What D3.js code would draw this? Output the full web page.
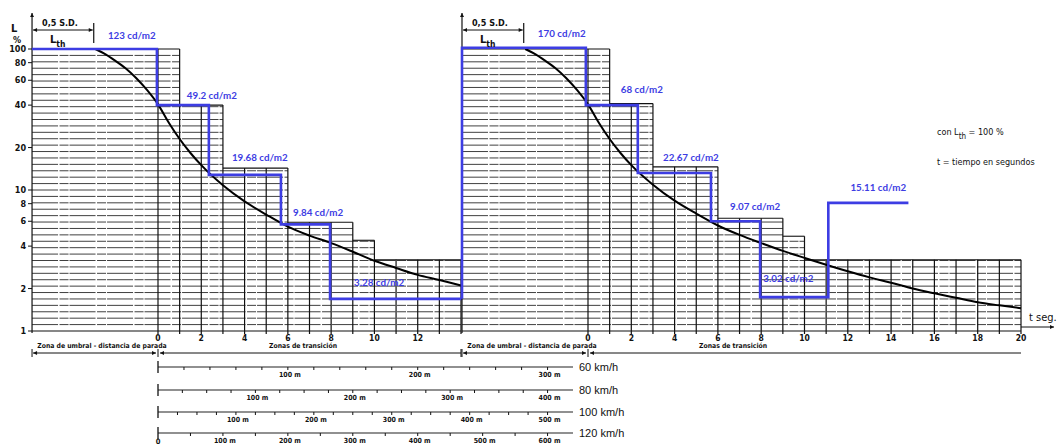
<!DOCTYPE html>
<html><head><meta charset="utf-8">
<script src="https://cdn.jsdelivr.net/npm/d3@7"></script>
<style>body{margin:0;background:#fff}svg{display:block}</style>
</head><body>
<svg id="c" width="1057" height="446"></svg>
<script>
// ---------------- DATA ----------------
const yTickValues = [1, 2, 4, 6, 8, 10, 20, 40, 60, 80, 100];
const leftTicksT = [0, 2, 4, 6, 8, 10, 12];
const rightTicksT = [0, 2, 4, 6, 8, 10, 12, 14, 16, 18, 20];
const thresholdStart = -5.82;           // start of threshold zone (s)
// grid columns: [t start, t end, top level %]
const leftColumns = [[-5.82, 1, 100], [1, 3, 40], [3, 6, 14.3], [6, 9, 5.9], [9, 10, 4.4], [10, 14, 3.2]];
const rightColumns = [[-5.82, 1, 100], [1, 3, 41], [3, 6, 14.6], [6, 9, 6.3], [9, 10, 4.7], [10, 20, 3.2]];
// black luminance curves [t, L%]
const curveLeft = [[-2.9, 100], [-2.5, 93], [-2, 83], [-1.5, 73], [-1, 62], [-0.5, 51], [0, 40.5], [0.5, 30], [1, 23], [1.5, 18.3], [2, 15], [3, 10.8], [4, 8.3], [5, 6.7], [6, 5.5], [7, 4.75], [8, 4.2], [9, 3.65], [10, 3.15], [11, 2.8], [12, 2.5], [13, 2.3], [14, 2.1]];
const curveRight = [[-2.9, 100], [-2.5, 93], [-2, 83], [-1.5, 73], [-1, 62], [-0.5, 51], [0, 40.5], [0.5, 30], [1, 23], [1.5, 18.3], [2, 15], [3, 10.9], [4, 8.4], [5, 6.8], [6, 5.6], [7, 4.8], [8, 4.2], [9, 3.7], [10, 3.3], [11, 2.95], [12, 2.65], [13, 2.4], [14, 2.2], [15, 2.0], [16, 1.85], [17, 1.72], [18, 1.6], [19, 1.52], [20, 1.45]];
// blue step lines [t, L%]
const stepsLeft = [[-5.82, 100], [-0.05, 100], [-0.05, 40], [2.35, 40], [2.35, 12.8], [5.68, 12.8], [5.68, 5.7], [7.95, 5.7], [7.95, 1.69], [14.05, 1.69]];
const stepsRight = [[-5.82, 1.69], [-5.82, 102], [-0.1, 102], [-0.1, 40], [2.3, 40], [2.3, 13.2], [5.68, 13.2], [5.68, 6.0], [7.95, 6.0], [7.95, 1.74], [11.1, 1.74], [11.1, 8.1], [14.8, 8.1]];
const labelsLeft = ["123 cd/m2", "49.2 cd/m2", "19.68 cd/m2", "9.84 cd/m2", "3.28 cd/m2"];
const labelsRight = ["170 cd/m2", "68 cd/m2", "22.67 cd/m2", "9.07 cd/m2", "3.02 cd/m2", "15.11 cd/m2"];
// distance scales
const speeds = [60, 80, 100, 120];
const speedLabelsM = [[100, 200, 300], [100, 200, 300, 400], [100, 200, 300, 400, 500], [100, 200, 300, 400, 500, 600]];
const minorStepM = [20, 25, 25, 50];
const maxDistM = [320, 420, 520, 625];

// ---------------- LAYOUT ----------------
const svg = d3.select("#c");
const y = d3.scaleLog().domain([1, 100]).range([331, 49]);
const xL = d3.scaleLinear().domain([0, 14]).range([158, 461]);
const xR = d3.scaleLinear().domain([0, 20]).range([588, 1021]);
const blue = "#3d3de3";
const narrow = "'Liberation Sans Narrow','DejaVu Sans Condensed','Arial Narrow',sans-serif";
const labelOffsetsLeft = [[-49, -10], [-22, -6], [-49, -14], [-37, -8], [-108, -13]];
const labelOffsetsRight = [[-48, -11], [-17, -12], [-48, -12], [-30, -11], [-65, -15], [-58, -12]];

const defs = svg.append("defs");
defs.append("marker").attr("id", "ah").attr("viewBox", "0 0 10 10")
  .attr("refX", 10).attr("refY", 5).attr("markerWidth", 7).attr("markerHeight", 4)
  .attr("markerUnits", "userSpaceOnUse").attr("orient", "auto-start-reverse")
  .append("path").attr("d", "M0,0L10,5L0,10z").attr("fill", "#111");

const gridLevels = d3.range(1, 44).map(i => Math.pow(10, 2 * i / 44));

const panels = [
  {x: xL, cols: leftColumns, tmax: 14, curve: curveLeft, steps: stepsLeft, labels: labelsLeft, offs: labelOffsetsLeft, ticks: leftTicksT, segStart: 0},
  {x: xR, cols: rightColumns, tmax: 20, curve: curveRight, steps: stepsRight, labels: labelsRight, offs: labelOffsetsRight, ticks: rightTicksT, segStart: 1}
];

function colTop(cols, t) {
  const c = cols.find(c => t >= c[0] && t < c[1]);
  return c ? c[2] : null;
}

panels.forEach(p => {
  const g = svg.append("g");
  const x = p.x;
  const x0 = x(thresholdStart);
  // horizontal grid lines
  gridLevels.forEach(L => {
    const cs = p.cols.filter(c => c[2] >= L - 1e-6);
    const tEnd = d3.max(cs, c => c[1]);
    g.append("line").attr("x1", x0).attr("x2", x(tEnd)).attr("y1", y(L)).attr("y2", y(L))
      .attr("stroke", "#2a2a2a").attr("stroke-width", 0.9).attr("stroke-dasharray", "26,1.5,9,1");
  });
  // bottom line
  g.append("line").attr("x1", x0).attr("x2", x(p.tmax)).attr("y1", y(1)).attr("y2", y(1))
    .attr("stroke", "#111").attr("stroke-width", 1.2);
  // column top edges
  p.cols.forEach(c => {
    g.append("line").attr("x1", x(c[0])).attr("x2", x(c[1])).attr("y1", y(c[2])).attr("y2", y(c[2]))
      .attr("stroke", "#111").attr("stroke-width", 1.1);
  });
  // vertical grid lines
  d3.range(0, p.tmax + 1).forEach(t => {
    const a = colTop(p.cols, t - 0.5), b = colTop(p.cols, t + 0.5);
    const top = Math.max(a || 0, b || 0);
    g.append("line").attr("x1", x(t)).attr("x2", x(t)).attr("y1", y(1) + 3).attr("y2", y(top))
      .attr("stroke", "#111").attr("stroke-width", 1.2);
  });
  // vertical axis of panel with arrow
  g.append("line").attr("x1", x0).attr("x2", x0).attr("y1", y(1) + 2).attr("y2", 13)
    .attr("stroke", "#111").attr("stroke-width", 1.2).attr("marker-end", "url(#ah)");
  // x tick labels
  g.selectAll(".xt").data(p.ticks).enter().append("text")
    .attr("x", d => x(d)).attr("y", 341).attr("text-anchor", "middle")
    .attr("font-family", narrow).attr("font-weight", "bold").attr("font-size", 8.5).attr("fill", "#111")
    .text(d => d);
  // black curve
  g.append("path").datum(p.curve)
    .attr("d", d3.line().x(d => x(d[0])).y(d => y(d[1])).curve(d3.curveMonotoneX))
    .attr("fill", "none").attr("stroke", "#000").attr("stroke-width", 2);
  // blue steps
  g.append("path").datum(p.steps)
    .attr("d", d3.line().x(d => x(d[0])).y(d => y(d[1])))
    .attr("fill", "none").attr("stroke", blue).attr("stroke-width", 2.6);
  // blue labels, attached to the end of each horizontal step
  p.labels.forEach((lab, i) => {
    const endPt = p.steps[p.segStart + 2 * i + 1];
    g.append("text").attr("x", x(endPt[0]) + p.offs[i][0]).attr("y", y(endPt[1]) + p.offs[i][1])
      .attr("font-family", "Lato,'Open Sans',sans-serif").attr("font-weight", "bold").attr("font-size", 9.8)
      .attr("fill", blue).text(lab);
  });
  // 0,5 S.D. bracket
  const xb = x(p.curve[0][0]) - 1.5;
  g.append("line").attr("x1", x0 + 1).attr("x2", xb - 1).attr("y1", 30).attr("y2", 30)
    .attr("stroke", "#111").attr("stroke-width", 1)
    .attr("marker-start", "url(#ah)").attr("marker-end", "url(#ah)");
  g.append("line").attr("x1", xb).attr("x2", xb).attr("y1", 23).attr("y2", 43)
    .attr("stroke", "#111").attr("stroke-width", 1.2);
  g.append("text").attr("x", x0 + 10).attr("y", 26).attr("font-family", narrow).attr("font-weight", "bold")
    .attr("font-size", 9).attr("fill", "#111").text("0,5 S.D.");
  const lt = g.append("text").attr("x", x0 + 18).attr("y", 43).attr("font-family", narrow)
    .attr("font-weight", "bold").attr("font-size", 11).attr("fill", "#111");
  lt.append("tspan").text("L");
  lt.append("tspan").attr("dy", 4).attr("font-size", 8.5).text("th");
  // zone arrows
  const zy = 353;
  const xs = x(0);
  g.append("line").attr("x1", x0 + 1).attr("x2", xs - 2).attr("y1", zy).attr("y2", zy)
    .attr("stroke", "#111").attr("stroke-width", 1)
    .attr("marker-start", "url(#ah)").attr("marker-end", "url(#ah)");
  g.append("line").attr("x1", xs + 2).attr("x2", x(p.tmax)).attr("y1", zy).attr("y2", zy)
    .attr("stroke", "#111").attr("stroke-width", 1).attr("marker-start", "url(#ah)");
  [x0, xs].forEach(v => g.append("line").attr("x1", v).attr("x2", v).attr("y1", zy - 4).attr("y2", zy + 4)
    .attr("stroke", "#111").attr("stroke-width", 1));
  g.append("text").attr("x", (x0 + xs) / 2 + 7).attr("y", 348).attr("text-anchor", "middle")
    .attr("font-family", narrow).attr("font-weight", "bold").attr("font-size", 6.8).attr("fill", "#111")
    .text("Zona de umbral - distancia de parada");
  g.append("text").attr("x", x(6.7)).attr("y", 348).attr("text-anchor", "middle")
    .attr("font-family", narrow).attr("font-weight", "bold").attr("font-size", 6.8).attr("fill", "#111")
    .text("Zonas de transición");
});

// bar at end of left transition zone
svg.append("line").attr("x1", xL(14)).attr("x2", xL(14)).attr("y1", 349).attr("y2", 357)
  .attr("stroke", "#111").attr("stroke-width", 1);

// Y axis ticks & labels (left only)
const x0L = xL(thresholdStart);
yTickValues.forEach(v => {
  svg.append("line").attr("x1", x0L - 4).attr("x2", x0L).attr("y1", y(v)).attr("y2", y(v))
    .attr("stroke", "#111").attr("stroke-width", 1);
  svg.append("text").attr("x", x0L - 6).attr("y", y(v) + 3).attr("text-anchor", "end")
    .attr("font-family", narrow).attr("font-weight", "bold").attr("font-size", 9).attr("fill", "#111")
    .text(v);
});
svg.append("text").attr("x", 11).attr("y", 32).attr("font-family", narrow).attr("font-weight", "bold")
  .attr("font-size", 11).attr("fill", "#111").text("L");
svg.append("text").attr("x", 13).attr("y", 43).attr("font-family", narrow).attr("font-weight", "bold")
  .attr("font-size", 9).attr("fill", "#111").text("%");

// t seg. axis arrow
svg.append("line").attr("x1", xR(20)).attr("x2", 1054).attr("y1", 327).attr("y2", 327)
  .attr("stroke", "#111").attr("stroke-width", 1).attr("marker-end", "url(#ah)");
svg.append("text").attr("x", 1029).attr("y", 321).attr("font-family", narrow).attr("font-size", 11)
  .attr("fill", "#111").text("t  seg.");

// notes on right
const note = svg.append("text").attr("x", 937).attr("y", 135).attr("font-family", narrow)
  .attr("font-size", 9).attr("fill", "#111");
note.append("tspan").text("con L");
note.append("tspan").attr("dy", 4).attr("font-size", 8).text("th");
note.append("tspan").attr("dy", -4).text(" =  100 %");
svg.append("text").attr("x", 937).attr("y", 165).attr("font-family", narrow).attr("font-size", 9)
  .attr("fill", "#111").text("t = tiempo en segundos");

// distance scales
const rowY = [367, 390, 412, 433];
speeds.forEach((v, i) => {
  const ms = v / 3.6;
  const dx = d3.scaleLinear().domain([0, maxDistM[i]]).range([xL(0), xL(maxDistM[i] / ms)]);
  const g = svg.append("g");
  const yy = rowY[i];
  g.append("line").attr("x1", dx(0)).attr("x2", 573).attr("y1", yy).attr("y2", yy)
    .attr("stroke", "#222").attr("stroke-width", 1.1);
  g.append("line").attr("x1", dx(0)).attr("x2", dx(0)).attr("y1", yy - 6).attr("y2", yy + 6)
    .attr("stroke", "#111").attr("stroke-width", 1.3);
  d3.range(minorStepM[i], maxDistM[i], minorStepM[i]).forEach(m => {
    if (dx(m) > 572) return;
    g.append("line").attr("x1", dx(m)).attr("x2", dx(m)).attr("y1", yy).attr("y2", yy + 3)
      .attr("stroke", "#111").attr("stroke-width", 1);
  });
  speedLabelsM[i].forEach(m => {
    g.append("text").attr("x", dx(m) + 2).attr("y", yy + 10).attr("text-anchor", "middle")
      .attr("font-family", narrow).attr("font-weight", "bold").attr("font-size", 7).attr("fill", "#111")
      .text(m + " m");
  });
  g.append("text").attr("x", 579).attr("y", yy + 4).attr("font-family", "'Liberation Sans',Arial,sans-serif")
    .attr("font-size", 11).attr("fill", "#111").text(v + "  km/h");
});
svg.append("text").attr("x", xL(0)).attr("y", 444).attr("text-anchor", "middle").attr("font-family", narrow)
  .attr("font-weight", "bold").attr("font-size", 7.5).attr("fill", "#111").text("0");
</script>
</body></html>
